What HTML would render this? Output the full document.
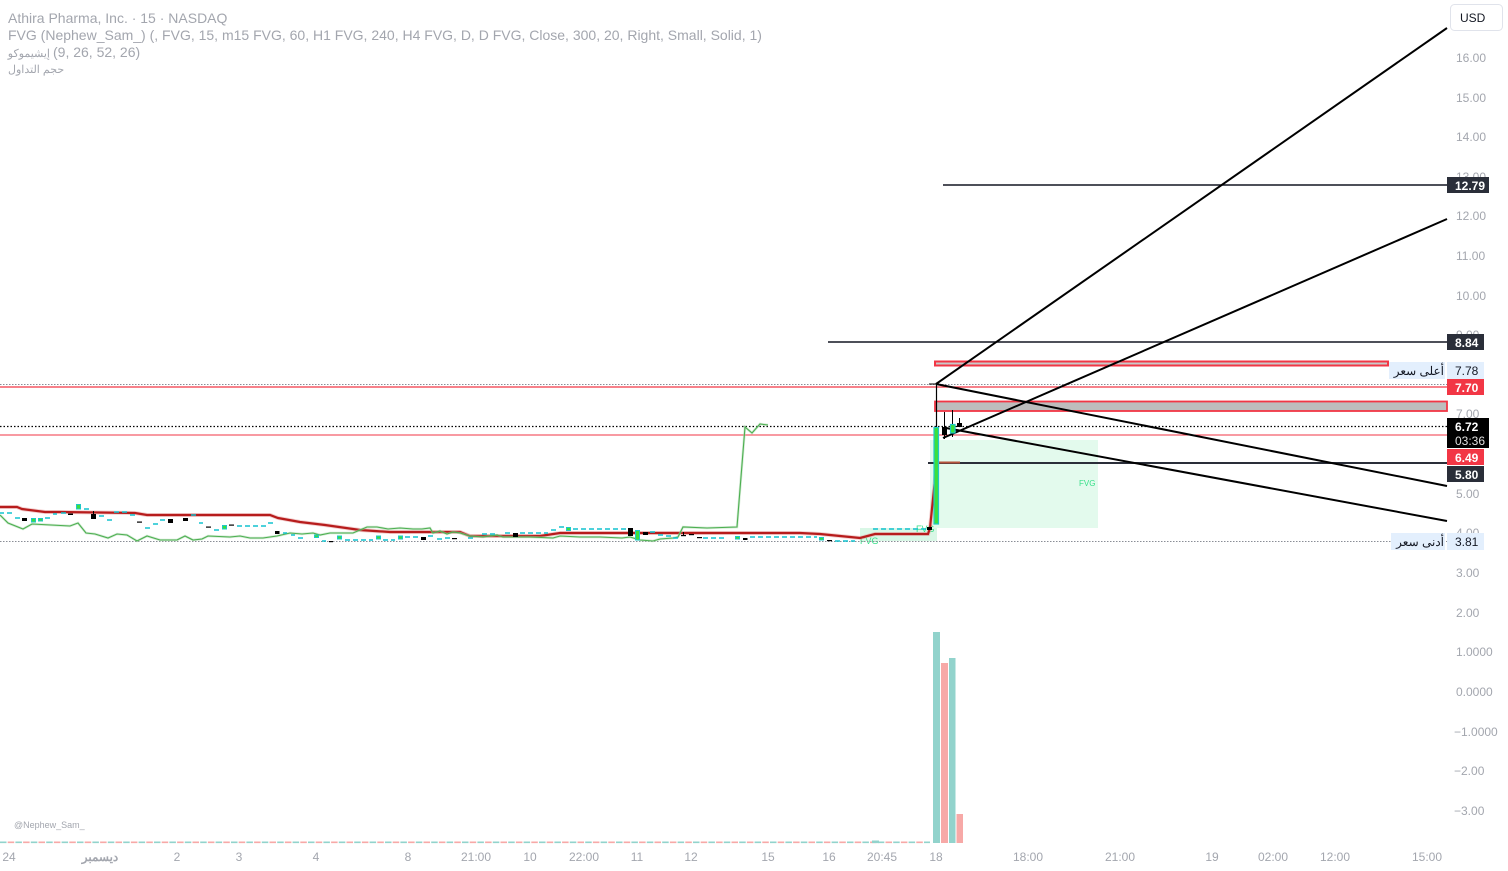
<!DOCTYPE html>
<html><head><meta charset="utf-8">
<style>
html,body{margin:0;padding:0;background:#fff;}
svg{display:block;}
text{font-family:"Liberation Sans","Noto Sans CJK SC",sans-serif;}
</style></head>
<body>
<svg width="1508" height="871" viewBox="0 0 1508 871" xmlns="http://www.w3.org/2000/svg">
<rect width="1508" height="871" fill="#fff"/>

<!-- header -->
<g fill="#a3a6ae" font-size="14">
<text x="8" y="23">Athira Pharma, Inc. · 15 · NASDAQ</text>
<text x="8" y="40">FVG (Nephew_Sam_) (, FVG, 15, m15 FVG, 60, H1 FVG, 240, H4 FVG, D, D FVG, Close, 300, 20, Right, Small, Solid, 1)</text>
<text x="50" y="57" text-anchor="end" font-size="11">إيشيموكو</text>
<text x="53" y="57">(9, 26, 52, 26)</text>
<text x="8" y="73" font-size="11">حجم التداول</text>
</g>

<!-- FVG boxes -->
<rect x="930" y="440" width="168" height="88" fill="#e3faed"/>
<rect x="860" y="528" width="77" height="13" fill="#d9f7e6"/>
<text x="1079" y="486" font-size="8" fill="#39e08a">FVG</text>
<text x="916" y="532" font-size="9" fill="#39e08a">FVG</text>
<text x="860" y="544" font-size="9" fill="#39e08a">FVG</text>

<!-- horizontal full-width lines -->
<line x1="0" y1="384.5" x2="1447" y2="384.5" stroke="#8a8d96" stroke-width="1" stroke-dasharray="1.5 1.5"/>
<line x1="0" y1="387" x2="1447" y2="387" stroke="#f23645" stroke-width="1.2"/>
<line x1="0" y1="426.5" x2="1447" y2="426.5" stroke="#000" stroke-width="1.2" stroke-dasharray="1.5 2"/>
<line x1="0" y1="435" x2="1447" y2="435" stroke="#f23645" stroke-width="1"/>
<line x1="0" y1="541.5" x2="1447" y2="541.5" stroke="#8a8d96" stroke-width="1" stroke-dasharray="1.5 1.5"/>

<!-- red/grey bands -->
<rect x="935" y="361.5" width="453" height="4" fill="#c9c9c9" stroke="#f23645" stroke-width="2"/>
<rect x="935" y="401.5" width="512" height="9.5" fill="#bdbdbd" stroke="#f23645" stroke-width="1.8"/>

<!-- black horizontal levels -->
<line x1="943" y1="185" x2="1447" y2="185" stroke="#131722" stroke-width="1.6"/>
<line x1="828" y1="342" x2="1447" y2="342" stroke="#131722" stroke-width="1.6"/>
<line x1="928" y1="463" x2="1447" y2="463" stroke="#2a2e39" stroke-width="2"/>
<line x1="938" y1="462.5" x2="960" y2="462.5" stroke="#b5533c" stroke-width="2"/>

<!-- diagonal lines -->
<g stroke="#000" stroke-width="2" fill="none">
<line x1="936" y1="384" x2="1447" y2="28"/>
<line x1="943" y1="438" x2="1447" y2="219"/>
<line x1="936" y1="384" x2="1447" y2="486"/>
<line x1="946" y1="428" x2="1447" y2="521"/>
</g>

<!-- Ichimoku red line -->
<polyline fill="none" stroke="#e8a0a0" stroke-width="4" stroke-opacity="0.5" points="0,507 17,507 22,509 45,512 60,512 135,513 147,515 270,515 278,518 300,522 325,525 360,530 390,532 460,532 470,536 540,536 560,533 760,533 800,533 820,534 840,536 860,538 875,534 928,534 930,528 936,470"/>
<polyline fill="none" stroke="#b71c1c" stroke-width="2.2" points="0,507 17,507 22,509 45,512 60,512 135,513 147,515 270,515 278,518 300,522 325,525 360,530 390,532 460,532 470,536 540,536 560,533 760,533 800,533 820,534 840,536 860,538 875,534 928,534 930,528 936,470"/>

<!-- Ichimoku green lagging line -->
<polyline fill="none" stroke="#a5d6a7" stroke-width="2.5" stroke-opacity="0.5" points="0,515 8,523 23,529 32,524 70,526 78,523 86,533 95,534 108,538 117,534 127,535 137,541 147,536 160,540 177,540 185,536 193,540 202,539 208,536 230,537 240,536 250,538 263,538 277,536 290,533 302,534 313,533 320,535 330,533 353,533 367,527 377,527 388,529 400,528 413,529 422,529 430,528 433,533 440,531 447,534 453,532 460,533 470,536 483,537 497,535 503,537 530,537 553,538 560,536 580,537 600,537 622,538 630,537 640,540 653,541 660,539 673,538 678,537 683,527 707,528 737,527 745,427 752,433 760,424 768,425"/>
<polyline fill="none" stroke="#4caf50" stroke-width="1.1" points="0,515 8,523 23,529 32,524 70,526 78,523 86,533 95,534 108,538 117,534 127,535 137,541 147,536 160,540 177,540 185,536 193,540 202,539 208,536 230,537 240,536 250,538 263,538 277,536 290,533 302,534 313,533 320,535 330,533 353,533 367,527 377,527 388,529 400,528 413,529 422,529 430,528 433,533 440,531 447,534 453,532 460,533 470,536 483,537 497,535 503,537 530,537 553,538 560,536 580,537 600,537 622,538 630,537 640,540 653,541 660,539 673,538 678,537 683,527 707,528 737,527 745,427 752,433 760,424 768,425"/>

<!-- cyan dashes -->
<g stroke="#12c2cf" stroke-width="1.5">
<line x1="0" y1="513" x2="4" y2="513"/><line x1="7" y1="513" x2="12" y2="513"/>
<line x1="15" y1="518" x2="20" y2="518"/><line x1="45" y1="518" x2="50" y2="518"/>
<line x1="53" y1="514" x2="57" y2="514"/><line x1="61" y1="513" x2="66" y2="513"/>
<line x1="84" y1="509" x2="89" y2="509"/><line x1="99" y1="516" x2="104" y2="516"/>
<line x1="107" y1="520" x2="112" y2="520"/><line x1="114" y1="512" x2="119" y2="512"/>
<line x1="122" y1="512" x2="127" y2="512"/><line x1="130" y1="515" x2="135" y2="515"/>
<line x1="145" y1="528" x2="150" y2="528"/><line x1="153" y1="524" x2="158" y2="524"/>
<line x1="160" y1="520" x2="165" y2="520"/><line x1="191" y1="515" x2="196" y2="515"/>
<line x1="199" y1="523" x2="203" y2="523"/><line x1="214" y1="530" x2="219" y2="530"/>
<line x1="237" y1="526" x2="267" y2="526" stroke-dasharray="5 3"/>
<line x1="268" y1="523" x2="273" y2="523"/><line x1="283" y1="533" x2="287" y2="533"/>
<line x1="291" y1="535" x2="295" y2="535"/><line x1="298" y1="538" x2="303" y2="538"/>
<line x1="322" y1="541" x2="326" y2="541"/><line x1="345" y1="540" x2="373" y2="540" stroke-dasharray="5 3"/>
<line x1="383" y1="540" x2="395" y2="540" stroke-dasharray="5 3"/><line x1="405" y1="537" x2="418" y2="537" stroke-dasharray="5 3"/>
<line x1="428" y1="536" x2="433" y2="536"/><line x1="437" y1="539" x2="442" y2="539"/>
<line x1="445" y1="538" x2="450" y2="538"/>
<line x1="468" y1="538" x2="473" y2="538"/><line x1="482" y1="534" x2="487" y2="534"/>
<line x1="490" y1="534" x2="495" y2="534"/><line x1="505" y1="533" x2="510" y2="533"/>
<line x1="520" y1="533" x2="548" y2="533" stroke-dasharray="5 3"/>
<line x1="551" y1="530" x2="556" y2="530"/><line x1="559" y1="527" x2="564" y2="527"/>
<line x1="573" y1="529" x2="627" y2="529" stroke-dasharray="5 3"/>
<line x1="650" y1="532" x2="655" y2="532"/><line x1="658" y1="535" x2="663" y2="535"/>
<line x1="666" y1="536" x2="671" y2="536"/><line x1="673" y1="538" x2="678" y2="538"/>
<line x1="703" y1="538" x2="727" y2="538" stroke-dasharray="5 3"/>
<line x1="750" y1="537" x2="817" y2="537" stroke-dasharray="5 3"/>
<line x1="835" y1="541" x2="855" y2="541" stroke-dasharray="5 3"/>
<line x1="873" y1="529" x2="927" y2="529" stroke-dasharray="5 3"/>
</g>

<!-- small candles: black -->
<g fill="#000">
<rect x="22" y="518" width="5" height="3"/>
<rect x="68" y="513.5" width="5" height="1.5"/>
<rect x="91" y="514" width="5" height="5"/><rect x="93" y="511" width="1" height="3"/>
<rect x="137" y="521.5" width="5" height="1.2"/>
<rect x="168" y="519" width="5" height="4"/>
<rect x="183" y="518" width="5" height="3"/>
<rect x="206" y="526.5" width="5" height="1.2"/>
<rect x="229" y="524.5" width="5" height="1.2"/>
<rect x="275" y="531" width="4.5" height="3"/>
<rect x="329" y="541" width="4" height="1.2"/>
<rect x="421" y="537" width="5" height="3"/>
<rect x="452" y="538" width="5" height="1.2"/>
<rect x="513" y="533" width="5" height="4"/>
<rect x="628" y="528" width="5" height="8"/>
<rect x="643" y="532" width="5" height="3"/>
<rect x="681" y="535" width="5" height="1.2"/><rect x="683" y="532" width="1" height="3"/>
<rect x="689" y="534" width="5" height="1.2"/>
<rect x="697" y="537" width="5" height="1.2"/>
<rect x="743" y="538" width="4.5" height="2"/>
<rect x="827" y="540" width="5" height="1.2"/>
<rect x="927" y="527" width="5" height="3"/>
</g>
<!-- small candles: green -->
<g fill="#3be03b" stroke="#1fc8c8" stroke-width="1">
<rect x="31.5" y="518.5" width="4" height="3.5"/>
<rect x="38.5" y="518.5" width="4" height="2.5"/>
<rect x="76.5" y="504.5" width="4" height="4.5"/>
<rect x="222.5" y="525.5" width="4" height="3.5"/>
<rect x="314.5" y="535" width="4" height="2.5"/>
<rect x="337.5" y="536" width="4" height="3"/>
<rect x="376.5" y="536" width="4" height="3"/>
<rect x="398.5" y="536" width="4" height="3"/>
<rect x="566.5" y="527.5" width="4" height="3"/>
<rect x="635.5" y="530.5" width="4" height="9.5"/>
<rect x="735.5" y="536.5" width="4" height="2.5"/>
<rect x="819.5" y="537.5" width="4" height="2.5"/>
</g>

<!-- recent candles -->
<line x1="936.5" y1="384" x2="936.5" y2="427" stroke="#000" stroke-width="1.2"/>
<line x1="929" y1="384" x2="936.5" y2="384" stroke="#000" stroke-width="1"/>
<rect x="934" y="427.5" width="4.5" height="96.5" fill="#3be03b" stroke="#1fc8c8" stroke-width="1.2"/>
<line x1="944.5" y1="412" x2="944.5" y2="439" stroke="#000" stroke-width="1"/>
<rect x="942" y="427" width="5" height="8" fill="#000"/>
<line x1="952.5" y1="410" x2="952.5" y2="437" stroke="#000" stroke-width="1"/>
<rect x="950.5" y="424.5" width="4.5" height="8.5" fill="#3be03b" stroke="#1fc8c8" stroke-width="1.2"/>
<line x1="959.5" y1="418" x2="959.5" y2="423" stroke="#000" stroke-width="1"/>
<rect x="957" y="423" width="5" height="4" fill="#000"/>

<!-- volume -->
<line x1="0" y1="842.3" x2="930" y2="842.3" stroke="#92d3cc" stroke-width="1.6" stroke-dasharray="6.5 8.9"/>
<line x1="7.7" y1="842.3" x2="930" y2="842.3" stroke="#f7a9a7" stroke-width="1.6" stroke-dasharray="6.5 8.9"/>
<rect x="872" y="840.5" width="7" height="2.6" fill="#92d3cc"/>
<rect x="933" y="632" width="7" height="211" fill="#92d3cc"/>
<rect x="941" y="663" width="7" height="180" fill="#f7a9a7"/>
<rect x="949" y="658" width="6.5" height="185" fill="#92d3cc"/>
<rect x="956.5" y="814" width="6.5" height="29" fill="#f7a9a7"/>

<text x="14" y="828" font-size="9" fill="#a3a6ae">@Nephew_Sam_</text>

<!-- price axis ticks -->
<g fill="#a3a6ae" font-size="12">
<text x="1456" y="62">16.00</text>
<text x="1456" y="102">15.00</text>
<text x="1456" y="141">14.00</text>
<text x="1456" y="181">13.00</text>
<text x="1456" y="220">12.00</text>
<text x="1456" y="260">11.00</text>
<text x="1456" y="300">10.00</text>
<text x="1456" y="339">9.00</text>
<text x="1456" y="418">7.00</text>
<text x="1456" y="498">5.00</text>
<text x="1456" y="537">4.00</text>
<text x="1456" y="577">3.00</text>
<text x="1456" y="617">2.00</text>
<text x="1456" y="656">1.0000</text>
<text x="1456" y="696">0.0000</text>
<text x="1454" y="736">−1.0000</text>
<text x="1454" y="775">−2.00</text>
<text x="1454" y="815">−3.00</text>
</g>

<!-- USD -->
<rect x="1450.5" y="4.5" width="52" height="26" rx="4" fill="#fff" stroke="#e0e3eb"/>
<text x="1460" y="22" font-size="12" fill="#131722">USD</text>

<!-- price labels -->
<rect x="1447" y="177" width="42" height="16" fill="#2a2e39"/>
<text x="1455" y="190" font-size="12" font-weight="bold" fill="#fff">12.79</text>
<rect x="1447" y="334" width="37" height="16" fill="#2a2e39"/>
<text x="1455" y="347" font-size="12" font-weight="bold" fill="#fff">8.84</text>

<rect x="1389" y="362" width="56" height="17" fill="#e3effd"/>
<text x="1444" y="375" font-size="12" fill="#131722" text-anchor="end">أعلى سعر</text>
<rect x="1447" y="362" width="37" height="17" fill="#e3effd"/>
<text x="1455" y="375" font-size="12" fill="#131722">7.78</text>

<rect x="1447" y="379" width="37" height="16" fill="#f23645"/>
<text x="1455" y="392" font-size="12" font-weight="bold" fill="#fff">7.70</text>

<rect x="1447" y="418" width="42" height="30" fill="#000"/>
<text x="1455" y="431" font-size="12" font-weight="bold" fill="#fff">6.72</text>
<text x="1455" y="445" font-size="12" fill="#e0e0e0">03:36</text>

<rect x="1447" y="449" width="37" height="16" fill="#f23645"/>
<text x="1455" y="462" font-size="12" font-weight="bold" fill="#fff">6.49</text>
<rect x="1447" y="466" width="37" height="16" fill="#2a2e39"/>
<text x="1455" y="479" font-size="12" font-weight="bold" fill="#fff">5.80</text>

<rect x="1391" y="533" width="54" height="17" fill="#e3effd"/>
<text x="1444" y="546" font-size="12" fill="#131722" text-anchor="end">أدنى سعر</text>
<rect x="1447" y="533" width="37" height="17" fill="#e3effd"/>
<text x="1455" y="546" font-size="12" fill="#131722">3.81</text>

<!-- time axis -->
<g fill="#a3a6ae" font-size="12" text-anchor="middle">
<text x="9" y="861">24</text>
<text x="100" y="861" font-weight="bold">ديسمبر</text>
<text x="177" y="861">2</text>
<text x="239" y="861">3</text>
<text x="316" y="861">4</text>
<text x="408" y="861">8</text>
<text x="476" y="861">21:00</text>
<text x="530" y="861">10</text>
<text x="584" y="861">22:00</text>
<text x="637" y="861">11</text>
<text x="691" y="861">12</text>
<text x="768" y="861">15</text>
<text x="829" y="861">16</text>
<text x="882" y="861">20:45</text>
<text x="936" y="861">18</text>
<text x="1028" y="861">18:00</text>
<text x="1120" y="861">21:00</text>
<text x="1212" y="861">19</text>
<text x="1273" y="861">02:00</text>
<text x="1335" y="861">12:00</text>
<text x="1427" y="861">15:00</text>
</g>
</svg>
</body></html>
